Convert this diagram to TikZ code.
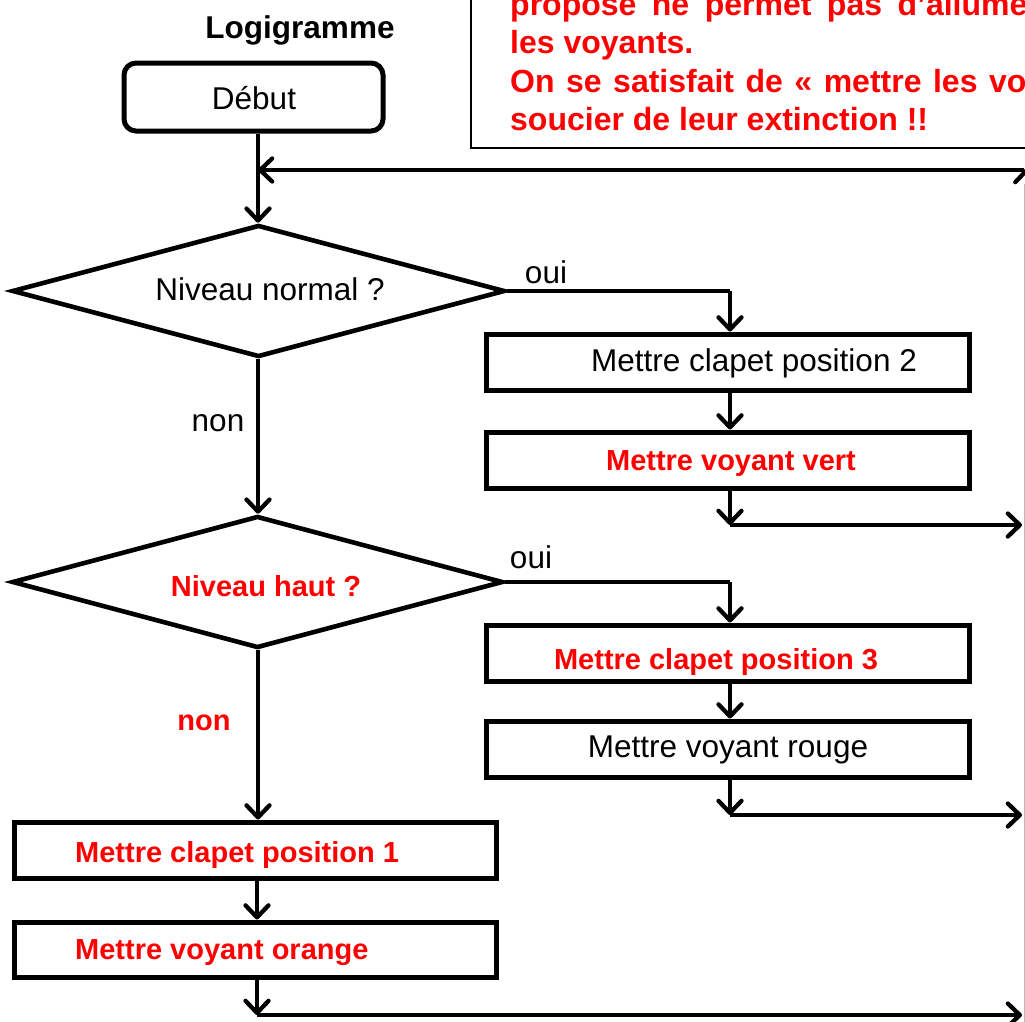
\documentclass[tikz,border=0pt]{standalone}
\usepackage{fontspec}
\setmainfont{Liberation Sans}
\usetikzlibrary{arrows.meta,shapes.geometric}
\definecolor{redtxt}{RGB}{255,0,0}
\begin{document}
\begin{tikzpicture}[x=1pt,y=-1pt,
  arr/.style={line width=4.3pt, -{Straight Barb[length=12pt,width=23pt,round]}},
  ln/.style={line width=4.3pt},
  box/.style={draw, line width=5pt, inner sep=0pt, minimum width=483pt, minimum height=56pt},
  dia/.style={draw, diamond, line width=4.6pt, inner sep=0pt, aspect=3.7},
  reg/.style={font=\fontsize{31.5pt}{36pt}\selectfont, inner sep=0pt, anchor=base},
  rbold/.style={font=\fontsize{29pt}{34pt}\selectfont\bfseries, text=redtxt, inner sep=0pt, anchor=base},
  note/.style={font=\fontsize{32pt}{38pt}\selectfont\bfseries, text=redtxt, inner sep=0pt, anchor=base west},
]
\useasboundingbox (0,0) rectangle (1025,1021);
\clip (0,0) rectangle (1025,1021);
\fill[white] (0,0) rectangle (1025,1021);

% note box
\node[draw, line width=2.4pt, minimum width=600pt, minimum height=170pt, inner sep=0pt, anchor=south west] (note) at (470,149) {};
\node[note] (t1) at (510,15) {\spaceskip=15.5pt proposé ne permet pas d’allumer et};
\node[note] (t2) at (510,53) {les voyants.};
\node[note] (t3) at (510,92) {\spaceskip=11.5pt On se satisfait de « mettre les voyants » sans se};
\node[note] (t4) at (510,130) {soucier de leur extinction !!};

% title
\node[font=\fontsize{31.5pt}{36pt}\selectfont\bfseries, inner sep=0pt, anchor=base] (title) at (300,38) {Logigramme};

% start
\node[draw, rounded corners=12pt, line width=5pt, minimum width=259pt, minimum height=68pt, inner sep=0pt] (debut) at (253.5,97) {};
\node[reg] (tdebut) at (254,109.5) {Début};

% diamonds
\node[dia, minimum width=493pt, minimum height=132pt] (d1) at (258.5,291) {};
\node[reg] (td1) at (270,300) {Niveau normal ?};
\node[dia, minimum width=491pt, minimum height=132pt] (d2) at (257.5,582) {};
\node[rbold] (td2) at (266,596) {Niveau haut ?};

% right column
\node[box] (b2) at (727.5,362) {};
\node[reg] (tb2) at (754,371) {Mettre clapet position 2};
\node[box] (b3) at (727.5,460) {};
\node[rbold] (tb3) at (731,470) {Mettre voyant vert};
\node[box] (b4) at (727.5,653) {};
\node[rbold] (tb4) at (716,669) {Mettre clapet position 3};
\node[box] (b5) at (727.5,749) {};
\node[reg] (tb5) at (728,757) {Mettre voyant rouge};

% left column
\node[box, minimum width=482pt] (b6) at (255,850) {};
\node[rbold, anchor=base west] (tb6) at (75,862) {Mettre clapet position 1};
\node[box, minimum width=482pt, minimum height=55pt] (b7) at (255,949.5) {};
\node[rbold, anchor=base west] (tb7) at (75,959) {Mettre voyant orange};

% labels
\node[reg] (oui1) at (546,283) {oui};
\node[reg] (oui2) at (531,568) {oui};
\node[reg] (non1) at (218,431) {non};
\node[rbold] (non2) at (204,730) {non};

% coordinates
\coordinate (rtop) at (1026.8,168);
\coordinate (rbot) at (1026.8,1030);
\coordinate (gtop) at (1024.4,184);
\coordinate (gbot) at (1024.4,1030);
\coordinate (rleft) at (1024,170);
\coordinate (jn) at (258,170);
\coordinate (c1) at (730,525);
\coordinate (e1) at (1022,525);
\coordinate (c2) at (730,815);
\coordinate (e2) at (1022,815);
\coordinate (c3) at (257,1015);
\coordinate (e3) at (1022,1015);
\coordinate (k1) at (730,291);
\coordinate (k2) at (730,582);

% connectors
\draw[arr] (debut.south -| jn) -- (d1.north -| jn);
\draw[arr] (rbot) -- (rtop);
\draw[gray!55, line width=1pt] (gbot) -- (gtop);
\draw[arr] (rleft) -- (jn);
\draw[ln] (d1.east) -- (k1);
\draw[arr] (k1) -- (k1 |- b2.north);
\draw[arr] (k1 |- b2.south) -- (k1 |- b3.north);
\draw[arr] (k1 |- b3.south) -- (c1);
\draw[arr] (c1) -- (e1);
\draw[arr] (d1.south -| jn) -- (d2.north -| jn);
\draw[ln] (d2.east) -- (k2);
\draw[arr] (k2) -- (k2 |- b4.north);
\draw[arr] (k2 |- b4.south) -- (k2 |- b5.north);
\draw[arr] (k2 |- b5.south) -- (c2);
\draw[arr] (c2) -- (e2);
\draw[arr] (d2.south -| jn) -- (b6.north -| jn);
\draw[arr] (b6.south -| c3) -- (b7.north -| c3);
\draw[arr] (b7.south -| c3) -- (c3);
\draw[arr] (c3) -- (e3);
\end{tikzpicture}
\end{document}
